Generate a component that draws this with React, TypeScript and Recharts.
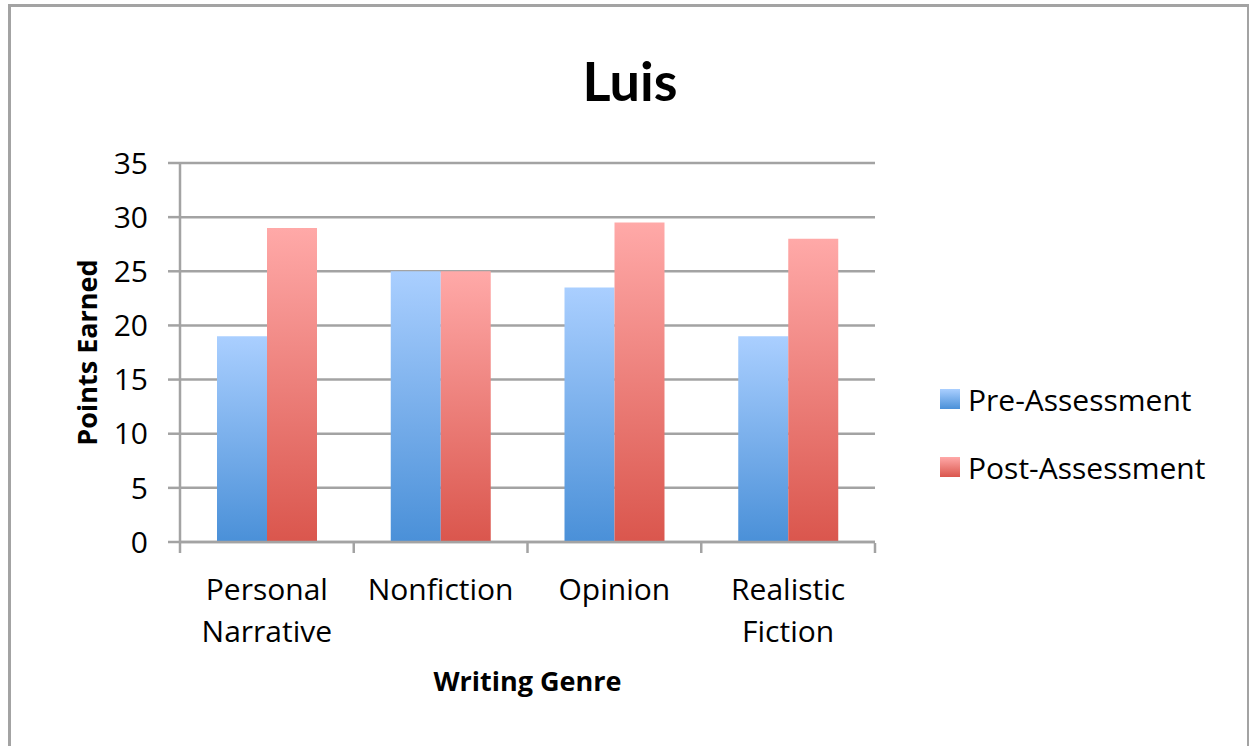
import { BarChart, Bar, XAxis, YAxis, CartesianGrid } from 'recharts';

// Writing genres (categories)
const genres = ['Personal Narrative', 'Nonfiction', 'Opinion', 'Realistic Fiction'];

// Scores
const preAssessment = [19, 25, 23.5, 19];
const postAssessment = [29, 25, 29.5, 28];

const yTicks = [0, 5, 10, 15, 20, 25, 30, 35];
const boundaryTicks = [0, 1, 2, 3, 4];

const data = genres.map((genre, i) => ({
  genre,
  pos: i + 0.5,
  pre: preAssessment[i],
  post: postAssessment[i],
}));

const GRAY = '#a3a3a3';
const FONT = '"Open Sans", sans-serif';

const GenreTick = ({ x, y, payload }: any) => {
  const lines = String(payload.value).split(' ');
  return (
    <text x={x} y={y} textAnchor="middle" fontFamily={FONT} fontSize={30} fill="#000">
      {lines.map((line, i) => (
        <tspan key={i} x={x} dy={i === 0 ? 50 : 42}>{line}</tspan>
      ))}
    </text>
  );
};

const legendItems = [
  { name: 'Pre-Assessment', from: '#aacfff', to: '#4a90d8' },
  { name: 'Post-Assessment', from: '#ffa9a8', to: '#da564d' },
];

export default function App() {
  return (
    <div style={{ position: 'absolute', left: 0, top: 0, width: 1249, height: 746, overflow: 'hidden', background: '#fff' }}>
      <div style={{ position: 'absolute', left: 8, top: 4, width: 1236, height: 800, border: `3px solid ${GRAY}` }} />
      <div style={{ position: 'absolute', left: 0, width: 1260, top: 48, textAlign: 'center', fontFamily: 'Lato, sans-serif', fontWeight: 700, fontSize: 54, lineHeight: '66px' }}>
        Luis
      </div>
      <div style={{ position: 'absolute', left: 0, top: 0 }}>
        <BarChart width={1249} height={746} data={data} margin={{ top: 163, right: 374, bottom: 202, left: 0 }} barCategoryGap={37} barGap={0}>
          <defs>
            <linearGradient id="preGrad" x1="0" y1="0" x2="0" y2="1">
              <stop offset="0%" stopColor="#aacfff" />
              <stop offset="100%" stopColor="#4a90d8" />
            </linearGradient>
            <linearGradient id="postGrad" x1="0" y1="0" x2="0" y2="1">
              <stop offset="0%" stopColor="#ffa9a8" />
              <stop offset="100%" stopColor="#da564d" />
            </linearGradient>
          </defs>
          <CartesianGrid vertical={false} stroke={GRAY} strokeWidth={2.5} />
          <XAxis
            dataKey="genre"
            height={1}
            tickLine={false}
            axisLine={{ stroke: GRAY, strokeWidth: 2.5 }}
            tick={<GenreTick />}
            interval={0}
            label={{ value: 'Writing Genre', position: 'bottom', offset: 129, fontFamily: FONT, fontSize: 27, fontWeight: 700, fill: '#000' }}
          />
          <XAxis
            xAxisId="bounds"
            dataKey="pos"
            type="number"
            domain={[0, 4]}
            allowDataOverflow
            ticks={boundaryTicks}
            interval={0}
            height={1}
            axisLine={false}
            tickLine={{ stroke: GRAY, strokeWidth: 2.5 }}
            tickSize={10}
            tickFormatter={() => ''}
          />
          <YAxis
            width={180}
            domain={[0, 35]}
            ticks={yTicks}
            interval={0}
            tickSize={12}
            tickMargin={20}
            axisLine={{ stroke: GRAY, strokeWidth: 2.5 }}
            tickLine={{ stroke: GRAY, strokeWidth: 2.5 }}
            tick={{ fontFamily: FONT, fontSize: 30, fill: '#000' }}
            label={({ viewBox }: any) => (
              <text
                x={86}
                y={viewBox.y + viewBox.height / 2}
                transform={`rotate(-90, 86, ${viewBox.y + viewBox.height / 2})`}
                textAnchor="middle"
                dominantBaseline="central"
                fontFamily={FONT}
                fontSize={27}
                fontWeight={700}
                fill="#000"
              >
                Points Earned
              </text>
            )}
          />
          <Bar dataKey="pre" name="Pre-Assessment" fill="url(#preGrad)" isAnimationActive={false} />
          <Bar dataKey="post" name="Post-Assessment" fill="url(#postGrad)" isAnimationActive={false} />
        </BarChart>
      </div>
      <div style={{ position: 'absolute', left: 940, top: 365, fontFamily: FONT, fontSize: 30, color: '#000' }}>
        {legendItems.map((item, i) => (
          <div key={i} style={{ display: 'flex', alignItems: 'center', height: 68 }}>
            <div style={{ width: 20, height: 20, marginRight: 8, background: `linear-gradient(${item.from}, ${item.to})` }} />
            <span>{item.name}</span>
          </div>
        ))}
      </div>
    </div>
  );
}
